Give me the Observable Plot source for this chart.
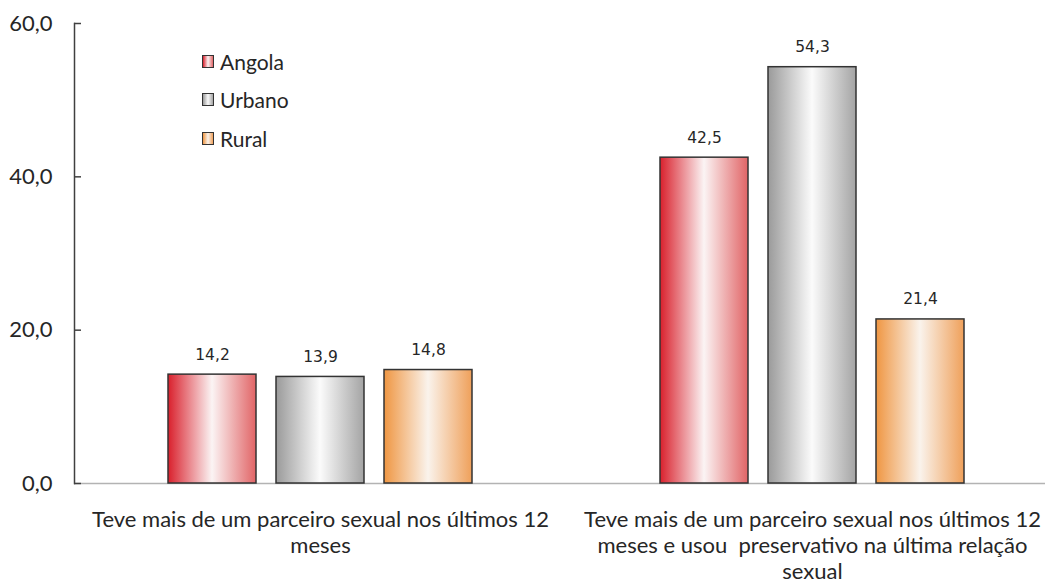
<!DOCTYPE html>
<html><head><meta charset="utf-8">
<script src="https://cdn.jsdelivr.net/npm/d3@7"></script>
<script src="https://cdn.jsdelivr.net/npm/@observablehq/plot@0.6"></script>
<style>
html,body{margin:0;padding:0;background:#fff;overflow:hidden}
#wrap{position:relative;width:1045px;height:581px}
#legend{position:absolute;left:202px;top:42px;font-family:Lato;font-size:21px;color:#262626}
.row{display:flex;align-items:center;height:38.5px}
.sw{width:10px;height:11px;border:1px solid #333;margin-right:6px}
</style></head><body><div id="wrap"><div id="legend"></div></div>
<script>
const categories = [
  "Teve mais de um parceiro sexual nos últimos 12 meses",
  "Teve mais de um parceiro sexual nos últimos 12 meses e usou preservativo na última relação sexual"
];
const categoryLabels = [
  "Teve mais de um parceiro sexual nos últimos 12\nmeses",
  "Teve mais de um parceiro sexual nos últimos 12\nmeses e usou  preservativo na última relação\nsexual"
];
const series = ["Angola", "Urbano", "Rural"];
const angola = [14.2, 42.5];
const urbano = [13.9, 54.3];
const rural = [14.8, 21.4];
const yTicks = [0, 20, 40, 60];
const gradientStops = {
  Angola: ["#d9202c", "#fbf4f4", "#e16466"],
  Urbano: ["#9a9a9a", "#fbfbfb", "#a4a4a4"],
  Rural: ["#ef9642", "#faf3ec", "#efa05a"]
};

const valuesBySeries = {Angola: angola, Urbano: urbano, Rural: rural};
const rows = [];
categories.forEach((c, i) => series.forEach(s => rows.push({category: c, series: s, value: valuesBySeries[s][i]})));

const fmt = d => d.toFixed(1).replace(".", ",");

function defs() {
  const d = d3.create("svg:defs");
  for (const s of series) {
    const g = d.append("linearGradient").attr("id", "grad-" + s).attr("x1", "0").attr("x2", "1").attr("y1", "0").attr("y2", "0");
    const st = gradientStops[s];
    g.append("stop").attr("offset", "0%").attr("stop-color", st[0]);
    g.append("stop").attr("offset", "50%").attr("stop-color", st[1]);
    g.append("stop").attr("offset", "100%").attr("stop-color", st[2]);
  }
  return d.node();
}

const chart = Plot.plot({
  width: 1045, height: 581,
  marginLeft: 74, marginRight: -13, marginTop: 23, marginBottom: 98,
  style: {fontFamily: "Lato", fontSize: "22px", color: "#262626", background: "transparent"},
  fx: {domain: categories, padding: 0, label: null, axis: null},
  x: {domain: series, paddingInner: 0.1835, paddingOuter: 0.849, axis: null},
  y: {domain: [0, 60], label: null},
  color: {type: "identity"},
  marks: [
    defs,
    Plot.ruleY([0], {stroke: "#b3b3b3", strokeWidth: 1.5}),
    Plot.frame({anchor: "left", facetAnchor: "left", stroke: "#404040", strokeWidth: 1.5}),
    Plot.barY(rows, {fx: "category", x: "series", y: "value", fill: d => `url(#grad-${d.series})`, stroke: "#333", strokeWidth: 1.5}),
    Plot.text(rows, {fx: "category", x: "series", y: "value", text: d => fmt(d.value), dy: -20, lineAnchor: "middle", fontFamily: "DejaVu Sans", fontSize: 15.5, fill: "#262626"}),
    Plot.axisY({ticks: yTicks, tickFormat: fmt, tickSize: -7, tickPadding: 29, stroke: "#404040", strokeWidth: 1.5, label: null}),
    Plot.axisFx({anchor: "bottom", tickFormat: d => categoryLabels[categories.indexOf(d)], tickSize: 0, tickPadding: 25, lineHeight: 1.18, label: null})
  ]
});
document.getElementById("wrap").appendChild(chart);

const legend = d3.select("#legend");
for (const s of series) {
  const st = gradientStops[s];
  const r = legend.append("div").attr("class", "row");
  r.append("div").attr("class", "sw").style("background", `linear-gradient(to right, ${st[0]}, ${st[1]}, ${st[2]})`);
  r.append("span").text(s);
}
d3.select("#wrap").node().appendChild(document.getElementById("legend"));
</script>
</body></html>
